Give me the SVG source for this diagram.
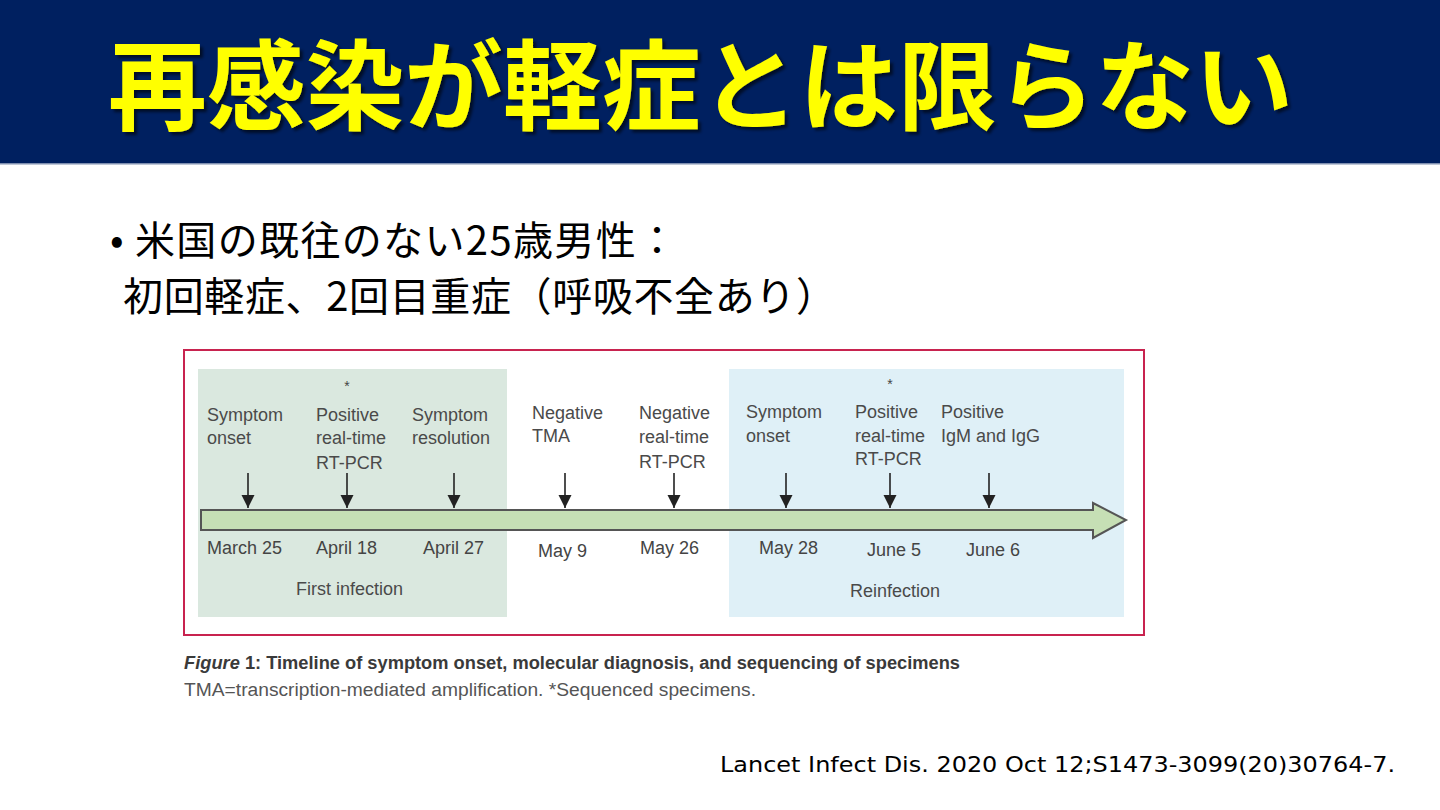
<svg xmlns="http://www.w3.org/2000/svg" width="1440" height="810" viewBox="0 0 1440 810">
<defs>
<style>
.lbl{font-family:"Liberation Sans",Arial,sans-serif;font-size:18px;fill:#4a4a4a}
.date{font-family:"Liberation Sans",Arial,sans-serif;font-size:18px;fill:#444}
.star{font-family:"Liberation Sans",Arial,sans-serif;font-size:14px;fill:#444;text-anchor:middle}
.jp{font-family:"Noto Sans CJK JP","Noto Sans",sans-serif;font-size:40px;fill:#000}
.dn{stroke:#222;stroke-width:1.6;fill:none}
</style>
<marker id="ah" viewBox="0 0 10 10" refX="10" refY="5" markerWidth="13" markerHeight="15" markerUnits="userSpaceOnUse" orient="auto">
<path d="M0,0 L10,5 L0,10 Z" fill="#222"/>
</marker>
<filter id="shadow" x="-5%" y="-20%" width="110%" height="140%">
<feDropShadow dx="3" dy="3" stdDeviation="1.5" flood-color="#000" flood-opacity="0.6"/>
</filter>
</defs>
<rect x="0" y="0" width="1440" height="810" fill="#fff"/>
<g id="header">
<rect x="0" y="0" width="1440" height="164" fill="#002060"/>
<rect x="0" y="163" width="1440" height="1.5" fill="#7f8fb0"/>
<text x="108" y="122" font-family="Noto Sans CJK JP,sans-serif" font-weight="bold" font-size="98" fill="#FFFF00" textLength="1185" lengthAdjust="spacingAndGlyphs" filter="url(#shadow)">再感染が軽症とは限らない</text>
</g>
<g id="bullets">
<text x="110" y="254" class="jp">•</text>
<text x="135" y="255" class="jp" textLength="542" lengthAdjust="spacing">米国の既往のない25歳男性：</text>
<text x="123" y="311" class="jp" textLength="713" lengthAdjust="spacing">初回軽症、2回目重症（呼吸不全あり）</text>
</g>
<g id="figure-frame">
<rect x="184" y="350" width="960" height="285" fill="#fff" stroke="#C8234F" stroke-width="2"/>
</g>
<g id="first-infection">
<rect x="198" y="369" width="309" height="248" fill="#DAE8DF"/>
<text x="296" y="595" class="lbl">First infection</text>
</g>
<g id="reinfection">
<rect x="729" y="369" width="395" height="248" fill="#DFF0F7"/>
<text x="850" y="597" class="lbl">Reinfection</text>
</g>
<g id="connectors">
<path d="M201,510 L1093,510 L1093,503 L1126,520 L1093,538 L1093,530 L201,530 Z" fill="#C6DFB5" stroke="#555" stroke-width="2" stroke-linejoin="miter"/>
<line x1="248" y1="473" x2="248" y2="508" class="dn" marker-end="url(#ah)"/>
<line x1="347" y1="473" x2="347" y2="508" class="dn" marker-end="url(#ah)"/>
<line x1="454" y1="473" x2="454" y2="508" class="dn" marker-end="url(#ah)"/>
<line x1="565" y1="473" x2="565" y2="508" class="dn" marker-end="url(#ah)"/>
<line x1="674" y1="473" x2="674" y2="508" class="dn" marker-end="url(#ah)"/>
<line x1="786" y1="473" x2="786" y2="508" class="dn" marker-end="url(#ah)"/>
<line x1="890" y1="473" x2="890" y2="508" class="dn" marker-end="url(#ah)"/>
<line x1="989" y1="473" x2="989" y2="508" class="dn" marker-end="url(#ah)"/>
</g>
<g id="ev-march25">
<text x="207" y="421" class="lbl">Symptom</text>
<text x="207" y="444" class="lbl">onset</text>
<text x="207" y="554" class="date">March 25</text>
</g>
<g id="ev-april18">
<text x="347" y="391" class="star">*</text>
<text x="316" y="421" class="lbl">Positive</text>
<text x="316" y="444" class="lbl">real-time</text>
<text x="316" y="469" class="lbl">RT-PCR</text>
<text x="316" y="554" class="date">April 18</text>
</g>
<g id="ev-april27">
<text x="412" y="421" class="lbl">Symptom</text>
<text x="412" y="444" class="lbl">resolution</text>
<text x="423" y="554" class="date">April 27</text>
</g>
<g id="ev-may9">
<text x="532" y="419" class="lbl">Negative</text>
<text x="532" y="442" class="lbl">TMA</text>
<text x="538" y="557" class="date">May 9</text>
</g>
<g id="ev-may26">
<text x="639" y="419" class="lbl">Negative</text>
<text x="639" y="443" class="lbl">real-time</text>
<text x="639" y="468" class="lbl">RT-PCR</text>
<text x="640" y="554" class="date">May 26</text>
</g>
<g id="ev-may28">
<text x="746" y="418" class="lbl">Symptom</text>
<text x="746" y="442" class="lbl">onset</text>
<text x="759" y="554" class="date">May 28</text>
</g>
<g id="ev-june5">
<text x="890" y="389" class="star">*</text>
<text x="855" y="418" class="lbl">Positive</text>
<text x="855" y="442" class="lbl">real-time</text>
<text x="855" y="465" class="lbl">RT-PCR</text>
<text x="867" y="556" class="date">June 5</text>
</g>
<g id="ev-june6">
<text x="941" y="418" class="lbl">Positive</text>
<text x="941" y="442" class="lbl">IgM and IgG</text>
<text x="966" y="556" class="date">June 6</text>
</g>
<g id="caption">
<text x="184" y="669" font-family="Liberation Sans,Arial,sans-serif" font-size="18" font-weight="bold" fill="#3a3a3a" textLength="776" lengthAdjust="spacingAndGlyphs"><tspan font-style="italic">Figure</tspan> 1: Timeline of symptom onset, molecular diagnosis, and sequencing of specimens</text>
<text x="184" y="696" font-family="Liberation Sans,Arial,sans-serif" font-size="18" fill="#555" textLength="572" lengthAdjust="spacingAndGlyphs">TMA=transcription-mediated amplification. *Sequenced specimens.</text>
</g>
<g id="citation">
<text x="720" y="772" font-family="DejaVu Sans,sans-serif" font-size="21" fill="#000" textLength="675" lengthAdjust="spacingAndGlyphs">Lancet Infect Dis. 2020 Oct 12;S1473-3099(20)30764-7.</text>
</g>
</svg>
